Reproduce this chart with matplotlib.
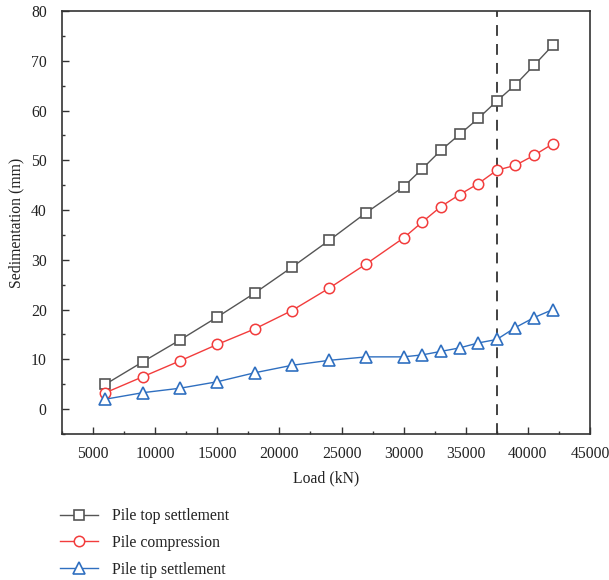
import matplotlib
matplotlib.use("Agg")
import matplotlib.pyplot as plt
from matplotlib.ticker import MultipleLocator

plt.rcParams['font.family'] = ['Liberation Serif', 'DejaVu Serif']

# Load steps (kN)
load = [6000, 9000, 12000, 15000, 18000, 21000, 24000, 27000, 30000,
        31500, 33000, 34500, 36000, 37500, 39000, 40500, 42000]

# Sedimentation (mm)
pile_top = [5.0, 9.5, 13.9, 18.5, 23.3, 28.5, 33.9, 39.5, 44.7,
            48.3, 52.0, 55.2, 58.4, 61.9, 65.2, 69.1, 73.1]
pile_compression = [3.3, 6.5, 9.7, 13.0, 16.1, 19.8, 24.3, 29.2, 34.4,
                    37.6, 40.7, 43.1, 45.3, 48.0, 49.0, 51.0, 53.3]
pile_tip = [2.0, 3.3, 4.2, 5.5, 7.3, 8.8, 9.8, 10.5, 10.5,
            10.9, 11.6, 12.3, 13.3, 14.0, 16.4, 18.4, 20.0]

limit_load = 37500

series_labels = ["Pile top settlement", "Pile compression", "Pile tip settlement"]

fs = 11.3

fig = plt.figure(figsize=(6.09, 5.80), dpi=100)
ax = fig.add_axes([62/609, 1 - 434/580, (590 - 62)/609, (434 - 11)/580])

c_top = '#555555'
c_comp = '#f23c3c'
c_tip = '#2f6fc0'

ax.plot(load, pile_top, color=c_top, lw=1.0, marker='s', ms=6.5,
        mfc='white', mec=c_top, mew=1.2, label=series_labels[0])
ax.plot(load, pile_compression, color=c_comp, lw=1.0, marker='o', ms=7.5,
        mfc='white', mec=c_comp, mew=1.1, label=series_labels[1])
ax.plot(load, pile_tip, color=c_tip, lw=1.0, marker='^', ms=9,
        mfc='white', mec=c_tip, mew=1.2, label=series_labels[2])

ax.axvline(limit_load, color='#333333', lw=1.3, ls=(0, (6, 4.5)), zorder=1)

ax.set_xlim(2500, 45000)
ax.set_ylim(-5, 80)
ax.xaxis.set_major_locator(MultipleLocator(5000))
ax.xaxis.set_minor_locator(MultipleLocator(2500))
ax.yaxis.set_major_locator(MultipleLocator(10))
ax.yaxis.set_minor_locator(MultipleLocator(5))

for s in ax.spines.values():
    s.set_color('#333333')
    s.set_linewidth(1.2)

ax.tick_params(which='both', direction='in', colors='#333333', width=1.0,
               labelcolor='#222222', labelsize=fs)
ax.tick_params(which='major', length=5)
ax.tick_params(which='minor', length=2.5)
ax.tick_params(axis='x', pad=8.5)
ax.tick_params(axis='y', pad=11)

ax.set_xlabel("Load (kN)", fontsize=fs, color='#222222', labelpad=6)
ax.set_ylabel("Sedimentation (mm)", fontsize=fs, color='#222222', labelpad=5)

handles, labels = ax.get_legend_handles_labels()
leg = fig.legend(handles, labels, loc='upper left',
                 bbox_to_anchor=(60/609, 1 - 508/580), frameon=False,
                 fontsize=fs, handlelength=2.4, handletextpad=0.9,
                 labelspacing=0.7, borderpad=0, borderaxespad=0)
for t in leg.get_texts():
    t.set_color('#222222')

fig.savefig("out.png", dpi=100)
